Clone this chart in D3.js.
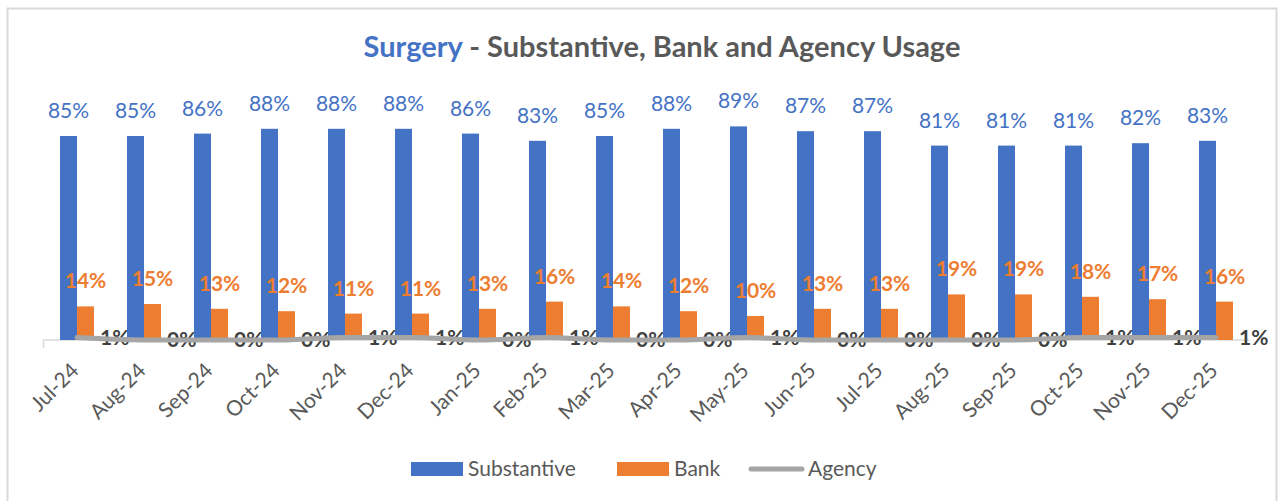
<!DOCTYPE html>
<html>
<head>
<meta charset="utf-8">
<script src="https://cdn.jsdelivr.net/npm/d3@7"></script>
<style>
  body { margin: 0; background: #fff; }
  svg { display: block; font-family: Lato, "Noto Sans", sans-serif; }
</style>
</head>
<body>
<div class="chart"></div>
<script>
// data
const months = ['Jul-24','Aug-24','Sep-24','Oct-24','Nov-24','Dec-24','Jan-25','Feb-25','Mar-25',
                'Apr-25','May-25','Jun-25','Jul-25','Aug-25','Sep-25','Oct-25','Nov-25','Dec-25'];
const substantive = [85,85,86,88,88,88,86,83,85,88,89,87,87,81,81,81,82,83];
const bank        = [14,15,13,12,11,11,13,16,14,12,10,13,13,19,19,18,17,16];
const agency      = [1,0,0,0,1,1,0,1,0,0,1,0,0,0,0,1,1,1];
const seriesNames = ['Substantive','Bank','Agency'];

const colors = {Substantive:'#4472c4', Bank:'#ed7d31', Agency:'#a5a5a5'};

const width = 1282, height = 501;
const svg = d3.select('.chart').append('svg').attr('width', width).attr('height', height);

// outer frame
svg.append('rect').attr('x',7.5).attr('y',8.5).attr('width',1269).attr('height',500)
  .attr('fill','none').attr('stroke','#d9d9d9').attr('stroke-width',2);

// title
const title = svg.append('text').attr('x',662).attr('y',57).attr('text-anchor','middle')
  .style('font-size','29px').style('font-weight','bold');
title.append('tspan').attr('fill','#4472c4').text('Surgery');
title.append('tspan').attr('fill','#595959').text(' - Substantive, Bank and Agency Usage');

// scales
const x = d3.scaleBand().domain(months).range([43.5, 1249.5]).paddingInner(0);
const bw = 17;
const x1 = d3.scaleBand().domain(['Substantive','Bank'])
  .range([x.bandwidth()/2 - bw, x.bandwidth()/2 + bw]);
const y = d3.scaleLinear().domain([0, 100]).range([340, 100]);

const data = months.map((m,i) => ({month:m, Substantive:substantive[i], Bank:bank[i], Agency:agency[i]}));

// category axis
const xAxis = d3.axisBottom(x).tickSize(0).tickFormat('');
const gx = svg.append('g').attr('transform','translate(0,340)').call(xAxis);
gx.select('.domain').attr('stroke','#d9d9d9').attr('stroke-width',1.5)
  .attr('d', `M43.5,8V0H1249.5`);

// bars
const groups = svg.append('g').selectAll('g').data(data).join('g')
  .attr('transform', d => `translate(${x(d.month)},0)`);

groups.selectAll('rect').data(d => ['Substantive','Bank'].map(k => ({key:k, value:d[k]})))
  .join('rect')
  .attr('x', d => x1(d.key)).attr('width', x1.bandwidth())
  .attr('y', d => y(d.value)).attr('height', d => y(0) - y(d.value))
  .attr('fill', d => colors[d.key]);

// agency line
const line = d3.line().x(d => x(d.month) + x.bandwidth()/2).y(d => y(d.Agency))
  .curve(d3.curveMonotoneX);
svg.append('path').datum(data).attr('d', line).attr('fill','none')
  .attr('stroke', colors.Agency).attr('stroke-width',5).attr('stroke-linecap','round');

// value labels
groups.append('text').attr('x', x1('Substantive') + bw/2).attr('y', d => y(d.Substantive) - 18)
  .attr('text-anchor','middle').attr('fill','#4472c4').style('font-size','21px')
  .text(d => d.Substantive + '%');
groups.append('text').attr('x', x1('Bank') + bw/2).attr('y', d => y(d.Bank) - 18)
  .attr('text-anchor','middle').attr('fill','#ed7d31').style('font-size','21px').style('font-weight','bold')
  .text(d => d.Bank + '%');
groups.append('text').attr('x', x.bandwidth()/2 + 23).attr('y', d => y(d.Agency)).attr('dy','0.35em')
  .attr('fill','#404040').style('font-size','21px').style('font-weight','bold')
  .text(d => d.Agency + '%');

// month labels
groups.append('text')
  .attr('transform', `translate(${x.bandwidth()/2 + 3},372) rotate(-45)`)
  .attr('text-anchor','end').attr('fill','#595959').style('font-size','21px')
  .text(d => d.month);

// legend
const legendX = [411, 617, 748];
const legend = svg.append('g').selectAll('g').data(seriesNames).join('g')
  .attr('transform', (d,i) => `translate(${legendX[i]},0)`);
legend.filter(d => d !== 'Agency').append('rect')
  .attr('x',0).attr('y',462).attr('width',52).attr('height',14).attr('fill', d => colors[d]);
legend.filter(d => d === 'Agency').append('line')
  .attr('x1',3).attr('x2',54).attr('y1',469).attr('y2',469)
  .attr('stroke', colors.Agency).attr('stroke-width',5).attr('stroke-linecap','round');
legend.append('text').attr('x', d => d === 'Agency' ? 60 : 57).attr('y',476)
  .attr('fill','#595959').style('font-size','21px').text(d => d);
</script>
</body>
</html>
